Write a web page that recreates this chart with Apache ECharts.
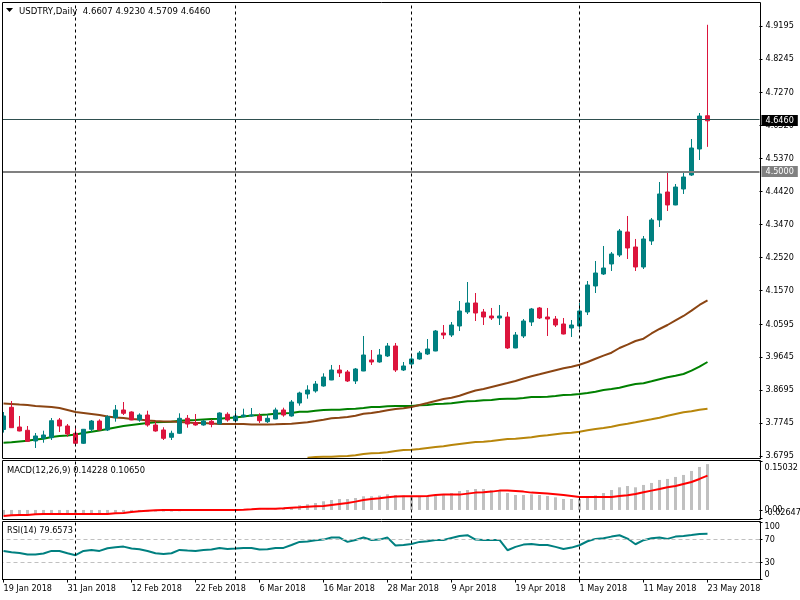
<!DOCTYPE html>
<html><head><meta charset="utf-8">
<style>html,body{margin:0;padding:0;background:#fff}#c{width:800px;height:600px}</style>
<script src="https://cdn.jsdelivr.net/npm/echarts@6/dist/echarts.min.js"></script>
</head><body><div id="c"></div>
<script>
var dates = ['19 Jan 2018','22 Jan 2018','23 Jan 2018','24 Jan 2018','25 Jan 2018','26 Jan 2018','29 Jan 2018','30 Jan 2018','31 Jan 2018','1 Feb 2018','2 Feb 2018','5 Feb 2018','6 Feb 2018','7 Feb 2018','8 Feb 2018','9 Feb 2018','12 Feb 2018','13 Feb 2018','14 Feb 2018','15 Feb 2018','16 Feb 2018','19 Feb 2018','20 Feb 2018','21 Feb 2018','22 Feb 2018','23 Feb 2018','26 Feb 2018','27 Feb 2018','28 Feb 2018','1 Mar 2018','2 Mar 2018','5 Mar 2018','6 Mar 2018','7 Mar 2018','8 Mar 2018','9 Mar 2018','12 Mar 2018','13 Mar 2018','14 Mar 2018','15 Mar 2018','16 Mar 2018','19 Mar 2018','20 Mar 2018','21 Mar 2018','22 Mar 2018','23 Mar 2018','26 Mar 2018','27 Mar 2018','28 Mar 2018','29 Mar 2018','30 Mar 2018','2 Apr 2018','3 Apr 2018','4 Apr 2018','5 Apr 2018','6 Apr 2018','9 Apr 2018','10 Apr 2018','11 Apr 2018','12 Apr 2018','13 Apr 2018','16 Apr 2018','17 Apr 2018','18 Apr 2018','19 Apr 2018','20 Apr 2018','23 Apr 2018','24 Apr 2018','25 Apr 2018','26 Apr 2018','27 Apr 2018','30 Apr 2018','1 May 2018','2 May 2018','3 May 2018','4 May 2018','7 May 2018','8 May 2018','9 May 2018','10 May 2018','11 May 2018','14 May 2018','15 May 2018','16 May 2018','17 May 2018','18 May 2018','21 May 2018','22 May 2018','23 May 2018'];
var emptySlots = ['','','','','',''];
var separators = ['1 Feb 2018','1 Mar 2018','2 Apr 2018','1 May 2018'];

var opens = [3.7557,3.8197,3.7629,3.7534,3.7225,3.7303,3.7321,3.7831,3.7658,3.7448,
3.7159,3.7563,3.7802,3.7543,3.7898,3.8120,3.8062,3.7831,3.7975,3.7687,
3.7543,3.7332,3.7448,3.7880,3.7753,3.7687,3.7794,3.7716,3.7996,3.7811,
3.7926,3.7947,3.7947,3.7782,3.7860,3.8120,3.7947,3.8321,3.8581,3.8668,
3.8812,3.8985,3.9273,3.9216,3.8956,3.9244,3.9562,3.9504,3.9677,3.9965,
3.9273,3.9446,3.9591,3.9735,3.9821,4.0340,4.0283,4.0542,4.0946,4.1206,
4.0946,4.0831,4.0773,4.0802,3.9908,4.0254,4.0658,4.1062,4.0802,4.0744,
4.0600,4.0485,4.0542,4.0946,4.1696,4.2042,4.2331,4.2590,4.3254,4.2821,
4.2244,4.2994,4.3600,4.4407,4.4033,4.4494,4.4897,4.5647,4.6607];
var closes = [3.7947,3.7609,3.7514,3.7217,3.7370,3.7399,3.7811,3.7658,3.7427,3.7159,
3.7563,3.7802,3.7543,3.7926,3.8120,3.8024,3.7831,3.7975,3.7687,3.7514,
3.7303,3.7448,3.7880,3.7716,3.7687,3.7802,3.7707,3.8033,3.7831,3.7947,
3.7975,3.7975,3.7811,3.7880,3.8120,3.7975,3.8350,3.8610,3.8696,3.8869,
3.9071,3.9273,3.9187,3.8956,3.9302,3.9706,3.9504,3.9706,3.9965,3.9273,
3.9389,3.9591,3.9764,3.9879,4.0398,4.0283,4.0571,4.0975,4.1206,4.0917,
4.0802,4.0773,4.0831,3.9908,4.0283,4.0686,4.1033,4.0773,4.0744,4.0571,
4.0311,4.0571,4.0975,4.1725,4.2071,4.2215,4.2619,4.3282,4.2792,4.2244,
4.3052,4.3600,4.4350,4.4033,4.4551,4.4840,4.5676,4.6599,4.6460];
var lows = [3.7468,3.7600,3.7505,3.7210,3.7024,3.7176,3.7254,3.7485,3.7350,3.7150,
3.7139,3.7494,3.7535,3.7514,3.7782,3.7975,3.7825,3.7782,3.7638,3.7494,
3.7254,3.7254,3.7427,3.7609,3.7667,3.7667,3.7621,3.7710,3.7782,3.7805,
3.7909,3.7926,3.7745,3.7745,3.7855,3.7926,3.7926,3.8244,3.8445,3.8619,
3.8792,3.8980,3.9071,3.8927,3.8869,3.9240,3.9418,3.9484,3.9648,3.9216,
3.9244,3.9360,3.9570,3.9706,3.9815,4.0167,4.0225,4.0398,4.0888,4.0686,
4.0571,4.0715,4.0571,3.9879,3.9900,4.0196,4.0542,4.0744,4.0254,4.0513,
4.0300,4.0225,4.0456,4.0859,4.1494,4.2013,4.2129,4.2533,4.2475,4.2129,
4.2186,4.2879,4.3398,4.3860,4.4025,4.4350,4.4869,4.5330,4.5709];
var highs = [3.8062,3.8379,3.7947,3.7658,3.7456,3.7523,3.7889,3.7889,3.7716,3.7638,
3.7572,3.7831,3.7851,3.7967,3.8264,3.8350,3.8082,3.8024,3.8099,3.7782,
3.7621,3.7523,3.8024,3.7975,3.8004,3.7831,3.7851,3.8053,3.8053,3.8099,
3.8157,3.8177,3.8024,3.7996,3.8186,3.8186,3.8408,3.8647,3.8832,3.8956,
3.9178,3.9418,3.9418,3.9273,3.9331,4.0254,3.9850,3.9879,4.0052,4.0052,
3.9504,3.9706,3.9821,4.0167,4.0427,4.0571,4.0658,4.1263,4.1811,4.1494,
4.1033,4.1062,4.1148,4.0946,4.0369,4.0744,4.1062,4.1091,4.1062,4.0831,
4.0773,4.0715,4.1206,4.1840,4.2417,4.2850,4.2677,4.3340,4.3715,4.3052,
4.3138,4.3657,4.4696,4.4955,4.4638,4.5013,4.5936,4.6686,4.9230];

var brownMA = [3.8307,3.8293,3.8278,3.8264,3.8235,3.8221,3.8206,3.8177,3.8120,3.8062,
3.8033,3.8004,3.7975,3.7932,3.7903,3.7889,3.7860,3.7846,3.7817,3.7802,
3.7788,3.7788,3.7773,3.7759,3.7745,3.7745,3.7730,3.7716,3.7716,3.7716,
3.7716,3.7701,3.7701,3.7701,3.7707,3.7716,3.7722,3.7745,3.7765,3.7802,
3.7840,3.7880,3.7898,3.7918,3.7955,3.8013,3.8033,3.8071,3.8111,3.8148,
3.8169,3.8206,3.8264,3.8321,3.8379,3.8437,3.8474,3.8532,3.8610,3.8682,
3.8725,3.8783,3.8841,3.8898,3.8956,3.9028,3.9092,3.9149,3.9207,3.9265,
3.9322,3.9368,3.9426,3.9504,3.9599,3.9686,3.9772,3.9908,4.0006,4.0110,
4.0176,4.0326,4.0456,4.0571,4.0701,4.0831,4.0984,4.1148,4.1278];
var greenMA = [3.7176,3.7188,3.7211,3.7234,3.7269,3.7292,3.7341,3.7370,3.7384,3.7413,
3.7456,3.7494,3.7528,3.7572,3.7615,3.7658,3.7687,3.7716,3.7745,3.7765,
3.7773,3.7782,3.7811,3.7822,3.7831,3.7846,3.7860,3.7869,3.7889,3.7903,
3.7932,3.7961,3.7975,3.7990,3.8013,3.8027,3.8033,3.8071,3.8071,3.8099,
3.8120,3.8128,3.8128,3.8148,3.8157,3.8177,3.8206,3.8206,3.8226,3.8235,
3.8235,3.8235,3.8255,3.8264,3.8293,3.8301,3.8313,3.8342,3.8371,3.8379,
3.8399,3.8408,3.8437,3.8445,3.8445,3.8466,3.8495,3.8495,3.8503,3.8523,
3.8552,3.8561,3.8581,3.8610,3.8647,3.8696,3.8725,3.8763,3.8820,3.8869,
3.8890,3.8947,3.9005,3.9063,3.9109,3.9158,3.9253,3.9368,3.9504];
var goldMA = [null,null,null,null,null,null,null,null,null,null,
null,null,null,null,null,null,null,null,null,null,
null,null,null,null,null,null,null,null,null,null,
null,null,null,null,null,null,null,null,3.6744,3.6764,
3.6773,3.6773,3.6784,3.6793,3.6813,3.6851,3.6871,3.6879,3.6900,3.6937,
3.6966,3.6975,3.6995,3.7024,3.7052,3.7073,3.7110,3.7139,3.7168,3.7197,
3.7205,3.7225,3.7254,3.7283,3.7292,3.7312,3.7332,3.7370,3.7390,3.7419,
3.7448,3.7465,3.7494,3.7534,3.7572,3.7600,3.7638,3.7687,3.7724,3.7765,
3.7811,3.7851,3.7898,3.7955,3.8004,3.8053,3.8082,3.8128,3.8157];

var macdHist = [-0.0160,-0.0150,-0.0140,-0.0135,-0.0130,-0.0125,-0.0120,-0.0125,-0.0130,-0.0130,
-0.0125,-0.0115,-0.0110,-0.0095,-0.0080,-0.0065,-0.0055,-0.0050,-0.0050,-0.0050,
-0.0050,-0.0050,-0.0040,-0.0030,-0.0020,-0.0015,-0.0010,0.0005,0.0005,0.0010,
0.0020,0.0020,0.0010,0.0010,0.0015,0.0030,0.0052,0.0145,0.0176,0.0217,
0.0269,0.0310,0.0341,0.0341,0.0372,0.0424,0.0424,0.0445,0.0486,0.0465,
0.0445,0.0434,0.0434,0.0424,0.0445,0.0476,0.0527,0.0589,0.0620,0.0651,
0.0651,0.0610,0.0600,0.0527,0.0465,0.0465,0.0486,0.0465,0.0434,0.0393,
0.0341,0.0341,0.0341,0.0383,0.0455,0.0527,0.0620,0.0703,0.0744,0.0703,
0.0776,0.0838,0.0931,0.0962,0.1024,0.1086,0.1210,0.1334,0.14228];
var macdSignal = [-0.0186,-0.0165,-0.0155,-0.0155,-0.0134,-0.0124,-0.0124,-0.0124,-0.0124,-0.0124,
-0.0124,-0.0124,-0.0124,-0.0124,-0.0103,-0.0093,-0.0062,-0.0041,-0.0021,-0.0010,
0,0,0,0,0,0,0,0,0,0,
0.0010,0.0021,0.0041,0.0041,0.0041,0.0052,0.0072,0.0083,0.0103,0.0114,
0.0124,0.0155,0.0186,0.0217,0.0259,0.0310,0.0341,0.0362,0.0393,0.0414,
0.0424,0.0424,0.0424,0.0434,0.0465,0.0476,0.0476,0.0476,0.0507,0.0538,
0.0548,0.0569,0.0600,0.0600,0.0589,0.0569,0.0538,0.0527,0.0507,0.0486,
0.0465,0.0434,0.0403,0.0403,0.0403,0.0403,0.0403,0.0434,0.0455,0.0496,
0.0548,0.0600,0.0651,0.0703,0.0744,0.0807,0.0869,0.0962,0.1065];

var rsiValues = [49.7,47.4,46.2,43.3,43.3,45.1,49.7,49.7,45.7,42.2,
49.7,51.4,49.7,54.3,56.1,57.2,53.8,52.6,49.7,45.7,
44.5,45.7,51.4,50.3,49.7,51.4,52,54.9,53.2,53.8,
54.9,54.9,52,52.6,54.9,54.9,60.1,65.4,65.9,68.3,
69.4,72.9,72.9,65.4,68.8,72.9,68.8,69.4,72.9,59,
60.1,61.9,65.4,66.5,68.8,68.8,72.3,75.8,77,69.4,
68.8,68.8,68.8,50.9,56.7,60.7,61.9,60.1,60.1,56.7,
53.2,55.5,59.6,66.5,70.6,71.7,74.6,77,71.2,61.3,
68.3,71.7,72.9,70.6,74.6,75.8,77.5,79.3,79.6573];

var priceTicks = [3.6795,3.7745,3.8695,3.9645,4.0595,4.1570,4.2520,4.3470,4.4420,4.5370,4.6320,4.7270,4.8245,4.9195];
var macdTicks = [0,0.15032];
var macdLowTick = [-0.02647];
var rsiTicks = [0,30,70,100];
var lastPrice = 4.6460, levelPrice = 4.5000;
var titleMain = 'USDTRY,Daily  4.6607 4.9230 4.5709 4.6460';
var titleMacd = 'MACD(12,26,9) 0.14228 0.10650';
var titleRsi = 'RSI(14) 79.6573';

var FONT = '"DejaVu Sans Condensed", "Liberation Sans", Arial, sans-serif';
var FS = 9;
var cats = dates.concat(emptySlots);
var candleData = dates.map(function(d,i){return [opens[i],closes[i],lows[i],highs[i]];});

function sepLines(){
  return separators.map(function(s){return {xAxis:s};});
}
function xAxisFor(idx,showLabel){
  return {
    type:'category',gridIndex:idx,data:cats,boundaryGap:true,
    axisLine:{show:showLabel,lineStyle:{color:'#000',width:1}},
    axisTick:{show:showLabel,alignWithLabel:true,interval:7,length:3,lineStyle:{color:'#000'}},
    axisLabel:{show:showLabel,interval:7,align:'left',margin:5,fontFamily:FONT,fontSize:FS,color:'#000',
      formatter:function(v){return v;},showMinLabel:true,hideOverlap:false},
    splitLine:{show:false}
  };
}
function yAxisFor(idx,min,max,ticks,fmt,vMin,vMax,margin,lineHeight){
  return {
    type:'value',gridIndex:idx,position:'right',min:min,max:max,scale:true,
    axisLine:{show:false},
    axisTick:{show:true,length:3,customValues:ticks,lineStyle:{color:'#000'}},
    axisLabel:{show:true,customValues:ticks,margin:margin,fontFamily:FONT,fontSize:FS,color:'#000',formatter:fmt,
      showMinLabel:true,showMaxLabel:true,hideOverlap:false,
      verticalAlignMinLabel:vMin,verticalAlignMaxLabel:vMax,lineHeight:lineHeight},
    splitLine:{show:false}
  };
}
var sepStyle = {color:'#000',width:1,type:[3,3]};

var option = {
  animation:false,
  backgroundColor:'#fff',
  title:[
    {text:titleMain,left:19,top:7,padding:0,textStyle:{fontFamily:FONT,fontSize:9.5,fontWeight:'normal',color:'#000'}},
    {text:titleMacd,left:7,top:466,padding:0,textStyle:{fontFamily:FONT,fontSize:9.3,fontWeight:'normal',color:'#000'}},
    {text:titleRsi,left:7,top:526,padding:0,textStyle:{fontFamily:FONT,fontSize:FS,fontWeight:'normal',color:'#000'}}
  ],
  grid:[
    {left:-0.5,width:760,top:2,height:456.5,outerBoundsMode:'none'},
    {left:-0.5,width:760,top:461.5,height:57,outerBoundsMode:'none'},
    {left:-0.5,width:760,top:522,height:57.5,outerBoundsMode:'none'}
  ],
  xAxis:[xAxisFor(0,false),xAxisFor(1,false),xAxisFor(2,true)],
  yAxis:[
    yAxisFor(0,3.67205,4.98873,priceTicks,function(v){return v.toFixed(4);},null,null,6),
    yAxisFor(1,-0.02647,0.15032,macdTicks,function(v){return v===0?'0.00':v.toFixed(5);},null,'top',5,12),
    yAxisFor(2,0,100,rsiTicks,function(v){return String(v);},'bottom','top',5,10),
    yAxisFor(1,-0.02647,0.15032,macdLowTick,function(v){return v.toFixed(5);},'bottom',null,5,12)
  ],
  series:[
    {type:'line',xAxisIndex:0,yAxisIndex:0,data:goldMA,showSymbol:false,lineStyle:{color:'#B8860B',width:2},z:2,silent:true},
    {type:'line',xAxisIndex:0,yAxisIndex:0,data:greenMA,showSymbol:false,lineStyle:{color:'#008000',width:2},z:2,silent:true},
    {type:'line',xAxisIndex:0,yAxisIndex:0,data:brownMA,showSymbol:false,lineStyle:{color:'#8B4513',width:2},z:2,silent:true},
    {type:'candlestick',xAxisIndex:0,yAxisIndex:0,data:candleData,barWidth:5,z:3,silent:true,
      itemStyle:{color:'#008080',color0:'#DC143C',borderColor:'#008080',borderColor0:'#DC143C',borderWidth:1},
      markLine:{silent:true,symbol:'none',animation:false,z:6,lineStyle:sepStyle,label:{show:false},data:sepLines()}},
    {type:'line',xAxisIndex:0,yAxisIndex:0,data:[],
      markLine:{silent:true,symbol:'none',animation:false,z:7,data:[
        {yAxis:lastPrice,lineStyle:{color:'#2F4F4F',width:1,type:'solid'},
          label:{show:true,position:'end',distance:2,offset:[0,1],formatter:lastPrice.toFixed(4),fontFamily:FONT,fontSize:FS,color:'#fff',backgroundColor:'#000',padding:[1,4,1,4]}},
        {yAxis:levelPrice,lineStyle:{color:'#808080',width:2,type:'solid'},
          label:{show:true,position:'end',distance:2,formatter:levelPrice.toFixed(4),fontFamily:FONT,fontSize:FS,color:'#fff',backgroundColor:'#808080',padding:[1,4,1,4]}}
      ]}},
    {type:'bar',xAxisIndex:1,yAxisIndex:1,data:macdHist,barWidth:3,itemStyle:{color:'#C0C0C0'},silent:true,
      markLine:{silent:true,symbol:'none',animation:false,lineStyle:sepStyle,label:{show:false},data:sepLines()}},
    {type:'line',xAxisIndex:1,yAxisIndex:1,data:macdSignal,showSymbol:false,lineStyle:{color:'#FF0000',width:2},z:3,silent:true},
    {type:'line',xAxisIndex:2,yAxisIndex:2,data:rsiValues,showSymbol:false,lineStyle:{color:'#008080',width:2},z:3,silent:true,
      markLine:{silent:true,symbol:'none',animation:false,label:{show:false},data:[
        {yAxis:70,lineStyle:{color:'#C0C0C0',width:1,type:[4,3]}},
        {yAxis:30,lineStyle:{color:'#C0C0C0',width:1,type:[4,3]}}
      ].concat(sepLines().map(function(o){o.lineStyle=sepStyle;return o;}))}}
  ],
  graphic:[
    {type:'rect',z:100,silent:true,shape:{x:0,y:0,width:2,height:600},style:{fill:'#fff'}},
    {type:'rect',z:101,silent:true,shape:{x:2.5,y:2.5,width:758,height:456},style:{fill:'none',stroke:'#000',lineWidth:1}},
    {type:'rect',z:101,silent:true,shape:{x:2.5,y:460.5,width:758,height:59},style:{fill:'none',stroke:'#000',lineWidth:1}},
    {type:'rect',z:101,silent:true,shape:{x:2.5,y:521.5,width:758,height:58},style:{fill:'none',stroke:'#000',lineWidth:1}},
    {type:'polygon',z:101,silent:true,shape:{points:[[6,8],[13,8],[9.5,12]]},style:{fill:'#000'}}
  ]
};
echarts.init(document.getElementById('c'),null,{renderer:'canvas'}).setOption(option);
</script></body></html>
